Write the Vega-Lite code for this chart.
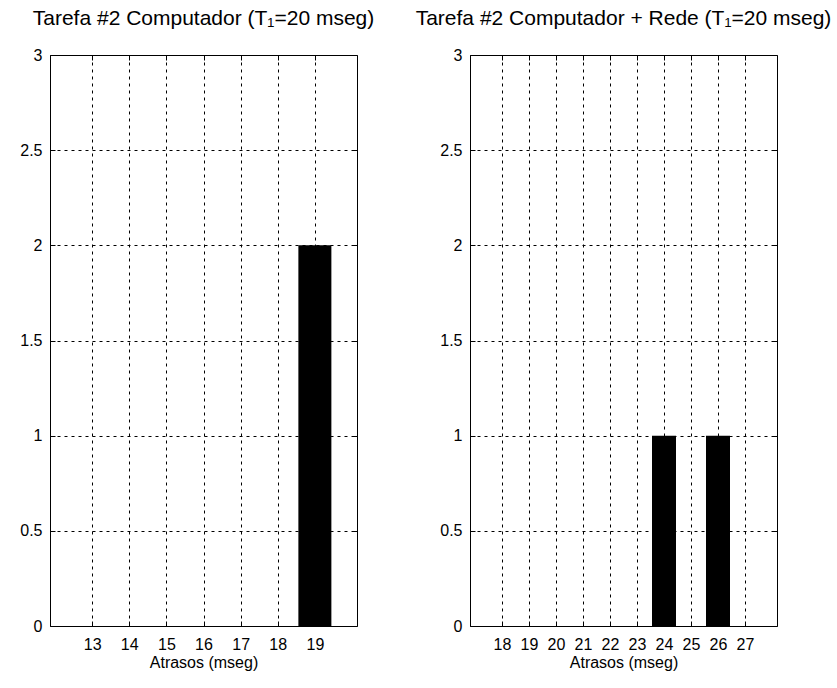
{
  "$schema": "https://vega.github.io/schema/vega-lite/v6.json",
  "background": "white",
  "padding": {"left": 19, "top": 7, "right": 5, "bottom": 5},
  "bounds": "flush",
  "spacing": 113,
  "config": {
    "font": "Liberation Sans",
    "view": {"stroke": "black", "strokeWidth": 1},
    "axis": {
      "grid": true, "gridColor": "black", "gridDash": [3, 4], "gridOpacity": 1, "gridWidth": 1,
      "domain": false, "ticks": true, "tickColor": "black", "tickSize": -5, "tickWidth": 1,
      "labelColor": "black", "labelFontSize": 16,
      "titleColor": "black", "titleFontSize": 16, "titleFontWeight": "normal", "titlePadding": 2
    },
    "axisX": {"labelPadding": 15},
    "axisY": {"labelPadding": 13},
    "title": {"fontSize": 21, "fontWeight": "normal", "color": "black", "offset": 18}
  },
  "hconcat": [
    {
      "title": "Tarefa #2 Computador (T₁=20 mseg)",
      "width": 307, "height": 571,
      "data": {"values": [{"atraso": 19, "contagem": 2}]},
      "resolve": {"axis": {"x": "independent", "y": "independent"}},
      "layer": [
        {
          "mark": {"type": "bar", "color": "black", "width": 33},
          "encoding": {
            "x": {"field": "atraso", "type": "quantitative", "scale": {"domain": [12, 20], "nice": false, "zero": false},
                  "axis": {"values": [13, 14, 15, 16, 17, 18, 19], "title": "Atrasos (mseg)"}},
            "y": {"field": "contagem", "type": "quantitative", "scale": {"domain": [0, 3], "nice": false},
                  "axis": {"values": [0, 0.5, 1, 1.5, 2, 2.5, 3], "format": "~g", "title": null}}
          }
        },
        {
          "mark": {"type": "bar", "opacity": 0, "width": 33},
          "encoding": {
            "x": {"field": "atraso", "type": "quantitative",
                  "axis": {"orient": "top", "values": [13, 14, 15, 16, 17, 18, 19], "labels": false, "grid": false, "title": null}},
            "y": {"field": "contagem", "type": "quantitative",
                  "axis": {"orient": "right", "values": [0, 0.5, 1, 1.5, 2, 2.5, 3], "labels": false, "grid": false, "title": null}}
          }
        }
      ]
    },
    {
      "title": "Tarefa #2 Computador + Rede (T₁=20 mseg)",
      "width": 307, "height": 571,
      "data": {"values": [{"atraso": 24, "contagem": 1}, {"atraso": 26, "contagem": 1}]},
      "resolve": {"axis": {"x": "independent", "y": "independent"}},
      "layer": [
        {
          "mark": {"type": "bar", "color": "black", "width": 24},
          "encoding": {
            "x": {"field": "atraso", "type": "quantitative", "scale": {"domain": [17, 28], "nice": false, "zero": false},
                  "axis": {"values": [18, 19, 20, 21, 22, 23, 24, 25, 26, 27], "title": "Atrasos (mseg)"}},
            "y": {"field": "contagem", "type": "quantitative", "scale": {"domain": [0, 3], "nice": false},
                  "axis": {"values": [0, 0.5, 1, 1.5, 2, 2.5, 3], "format": "~g", "title": null}}
          }
        },
        {
          "mark": {"type": "bar", "opacity": 0, "width": 24},
          "encoding": {
            "x": {"field": "atraso", "type": "quantitative",
                  "axis": {"orient": "top", "values": [18, 19, 20, 21, 22, 23, 24, 25, 26, 27], "labels": false, "grid": false, "title": null}},
            "y": {"field": "contagem", "type": "quantitative",
                  "axis": {"orient": "right", "values": [0, 0.5, 1, 1.5, 2, 2.5, 3], "labels": false, "grid": false, "title": null}}
          }
        }
      ]
    }
  ]
}
